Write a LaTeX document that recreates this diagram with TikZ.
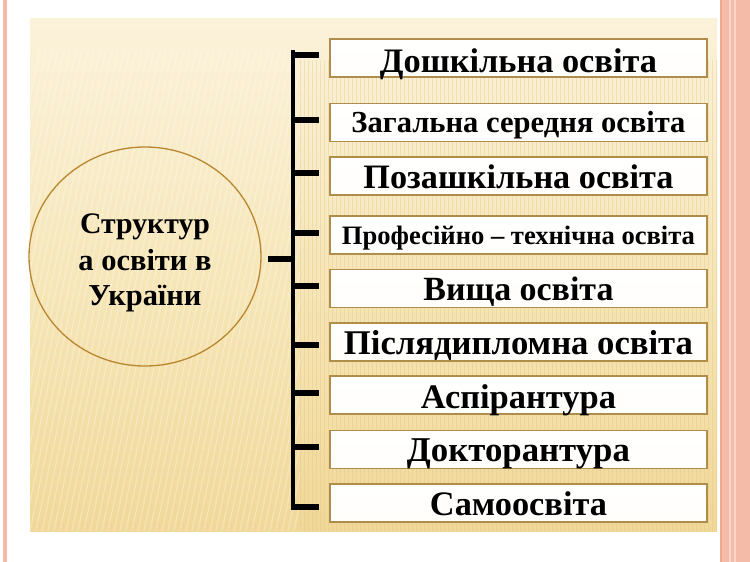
\documentclass[tikz,border=0pt]{standalone}
\usepackage{fontspec}
\setmainfont{Liberation Serif}
\usepackage{graphicx}
\usetikzlibrary{shapes.geometric}
\definecolor{panelTop}{HTML}{FBF2DA}
\definecolor{panelMid}{HTML}{F6E6B8}
\definecolor{panelBot}{HTML}{F1D899}
\definecolor{boxedge}{HTML}{B08D4A}
\definecolor{circedge}{HTML}{B8862E}
\definecolor{salmon}{HTML}{F4BCA8}
\definecolor{salmonlight}{HTML}{F9D6C8}
\definecolor{salmondark}{HTML}{EEA88F}
\definecolor{goldline}{HTML}{E2C47E}
\newcommand\fw[2]{\resizebox{#1pt}{!}{#2}}
\begin{document}
\begin{tikzpicture}[x=1pt,y=-1pt,
  box/.style={draw=boxedge, line width=1.4pt, top color=white, bottom color=white!94!panelMid,
    minimum width=377pt, minimum height=38pt, inner sep=0pt},
  boxtext/.style={anchor=base, inner sep=0pt, font=\bfseries},
  circtext/.style={anchor=base, inner sep=0pt, font=\bfseries},
  tick/.style={line width=6pt, black},
  bar/.style={line width=4pt, black},
  stripe/.style={white, opacity=0.3, line width=1.2pt},
  vstripe/.style={goldline, opacity=0.35, line width=1pt}
  ]
\useasboundingbox (0,0) rectangle (750,562);
\fill[white] (0,0) rectangle (750,562);
% left pink line
\fill[salmon] (3,0) rectangle (7,562);
% right stripe
\fill[salmon] (720,0) rectangle (750,562);
\fill[salmondark] (720,0) rectangle (722,562);
\fill[salmonlight] (729,0) rectangle (731,562);
\fill[salmonlight] (734,0) rectangle (735.5,562);
% panel
\shade[top color=panelTop, bottom color=panelBot, middle color=panelMid] (30,18) rectangle (717,531);
\begin{scope}
  \clip (30,50) rectangle (300,531);
  \foreach \i in {0,6,...,400} {
    \draw[stripe] (\i-60,531) -- (\i+40,50);
  }
\end{scope}
\begin{scope}
  \clip (300,60) rectangle (717,531);
  \foreach \i in {300,304,...,717} {
    \draw[vstripe] (\i,60) -- (\i,531);
  }
\end{scope}
% circle
\node[ellipse, draw=circedge, line width=1.3pt, minimum width=232pt, minimum height=219pt, inner sep=0pt] (c) at (145,256.5) {};
\node[circtext] (ct1) at (145,233) {\fw{130}{Структур}};
\node[circtext] (ct2) at (145,270) {\fw{133}{а освіти в}};
\node[circtext] (ct3) at (145,305) {\fw{113}{України}};
% boxes
\node[box] (b1) at (518.5,58)   {};
\node[box] (b2) at (518.5,122.5){};
\node[box] (b3) at (518.5,176)  {};
\node[box] (b4) at (518.5,235)  {};
\node[box] (b5) at (518.5,288.5){};
\node[box] (b6) at (518.5,342)  {};
\node[box] (b7) at (518.5,395)  {};
\node[box] (b8) at (518.5,449.5){};
\node[box] (b9) at (518.5,503)  {};
\node[boxtext] (l1) at ([yshift=-14pt]b1.center) {\fw{277}{Дошкільна освіта}};
\node[boxtext] (l2) at ([yshift=-10pt]b2.center) {\fw{334}{Загальна середня освіта}};
\node[boxtext] (l3) at ([yshift=-12pt]b3.center) {\fw{310}{Позашкільна освіта}};
\node[boxtext] (l4) at ([yshift=-9pt]b4.center)  {\fw{353}{Професійно – технічна освіта}};
\node[boxtext] (l5) at ([yshift=-12pt]b5.center) {\fw{190}{Вища освіта}};
\node[boxtext] (l6) at ([yshift=-12pt]b6.center) {\fw{349}{Післядипломна освіта}};
\node[boxtext] (l7) at ([yshift=-13pt]b7.center) {\fw{195}{Аспірантура}};
\node[boxtext] (l8) at ([yshift=-12pt]b8.center) {\fw{223}{Докторантура}};
\node[boxtext] (l9) at ([yshift=-12pt]b9.center) {\fw{177}{Самоосвіта}};
% bracket
\coordinate (bt) at (293,50);
\coordinate (bb) at (293,510);
\draw[bar] (bt) -- (bb);
\foreach \n/\y in {1/55,2/120,3/173,4/233,5/286,6/345,7/393,8/447,9/507} {
  \coordinate (t\n) at (319,\y);
  \draw[tick] (t\n -| bt) -- (t\n);
}
\coordinate (j) at (293,259);
\draw[tick] ([xshift=6pt]c.east |- j) -- (j);
\end{tikzpicture}
\end{document}
